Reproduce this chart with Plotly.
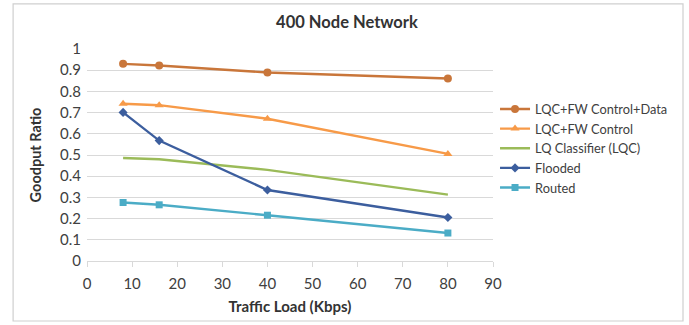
import plotly.graph_objects as go

x_load = [8, 16, 40, 80]
ctrl_data = [0.93, 0.922, 0.889, 0.861]
ctrl = [0.742, 0.735, 0.671, 0.505]
lqc = [0.486, 0.48, 0.43, 0.313]
flooded = [0.701, 0.568, 0.335, 0.205]
routed = [0.276, 0.265, 0.216, 0.132]

series = [
    ("LQC+FW Control+Data", ctrl_data, "#C9763A", "circle", 8),
    ("LQC+FW Control", ctrl, "#F79A48", "triangle-up", 8),
    ("LQ Classifier (LQC)", lqc, "#9BBB59", None, 0),
    ("Flooded", flooded, "#3C5E9E", "diamond", 7),
    ("Routed", routed, "#4BACC6", "square", 7),
]

fig = go.Figure()
for name, ys, col, sym, sz in series:
    if sym:
        fig.add_trace(go.Scatter(x=x_load, y=ys, name=name, mode="lines+markers",
                                 line=dict(color=col, width=2.4),
                                 marker=dict(symbol=sym, size=sz, color=col)))
    else:
        fig.add_trace(go.Scatter(x=x_load, y=ys, name=name, mode="lines",
                                 line=dict(color=col, width=2.4)))

fig.update_layout(
    width=689, height=325,
    margin=dict(l=87, r=196, t=49, b=64),
    paper_bgcolor="white", plot_bgcolor="white",
    font=dict(family="Lato, 'Open Sans', sans-serif", color="#404040", size=15),
    title=dict(text="<b>400 Node Network</b>", x=0.5036, xref="container", xanchor="center",
               y=0.932, yref="container", yanchor="middle", font=dict(size=16.5, color="#333")),
    showlegend=True,
    legend=dict(x=1.005, xanchor="left", y=0.53, yanchor="middle",
                font=dict(size=12.8, color="#404040"), tracegroupgap=0,
                bgcolor="rgba(0,0,0,0)", itemwidth=30),
    xaxis=dict(range=[0, 90], dtick=10, tick0=0, showgrid=False,
               showline=True, linecolor="#D9D9D9", linewidth=1,
               ticks="outside", tickcolor="#D9D9D9", ticklen=5, ticklabelstandoff=4,
               title=dict(text="<b>Traffic Load (Kbps)</b>", font=dict(size=15, color="#333"), standoff=10),
               zeroline=False),
    yaxis=dict(range=[0, 1], dtick=0.1, showgrid=True, gridcolor="#D9D9D9", gridwidth=1,
               showline=False, zeroline=False, ticks="", ticklabelstandoff=5,
               title=dict(text="<b>Goodput Ratio</b>", font=dict(size=14.5, color="#333"), standoff=14)),
)
fig.add_shape(type="rect", xref="paper", yref="paper", x0=-0.182, x1=1.468, y0=-0.283, y1=1.213,
              line=dict(color="#CFCFCF", width=1.2), fillcolor="rgba(0,0,0,0)", layer="above")
fig.write_html("out.html", config={"displayModeBar": False},
               post_script="document.body.style.margin='0px';")
